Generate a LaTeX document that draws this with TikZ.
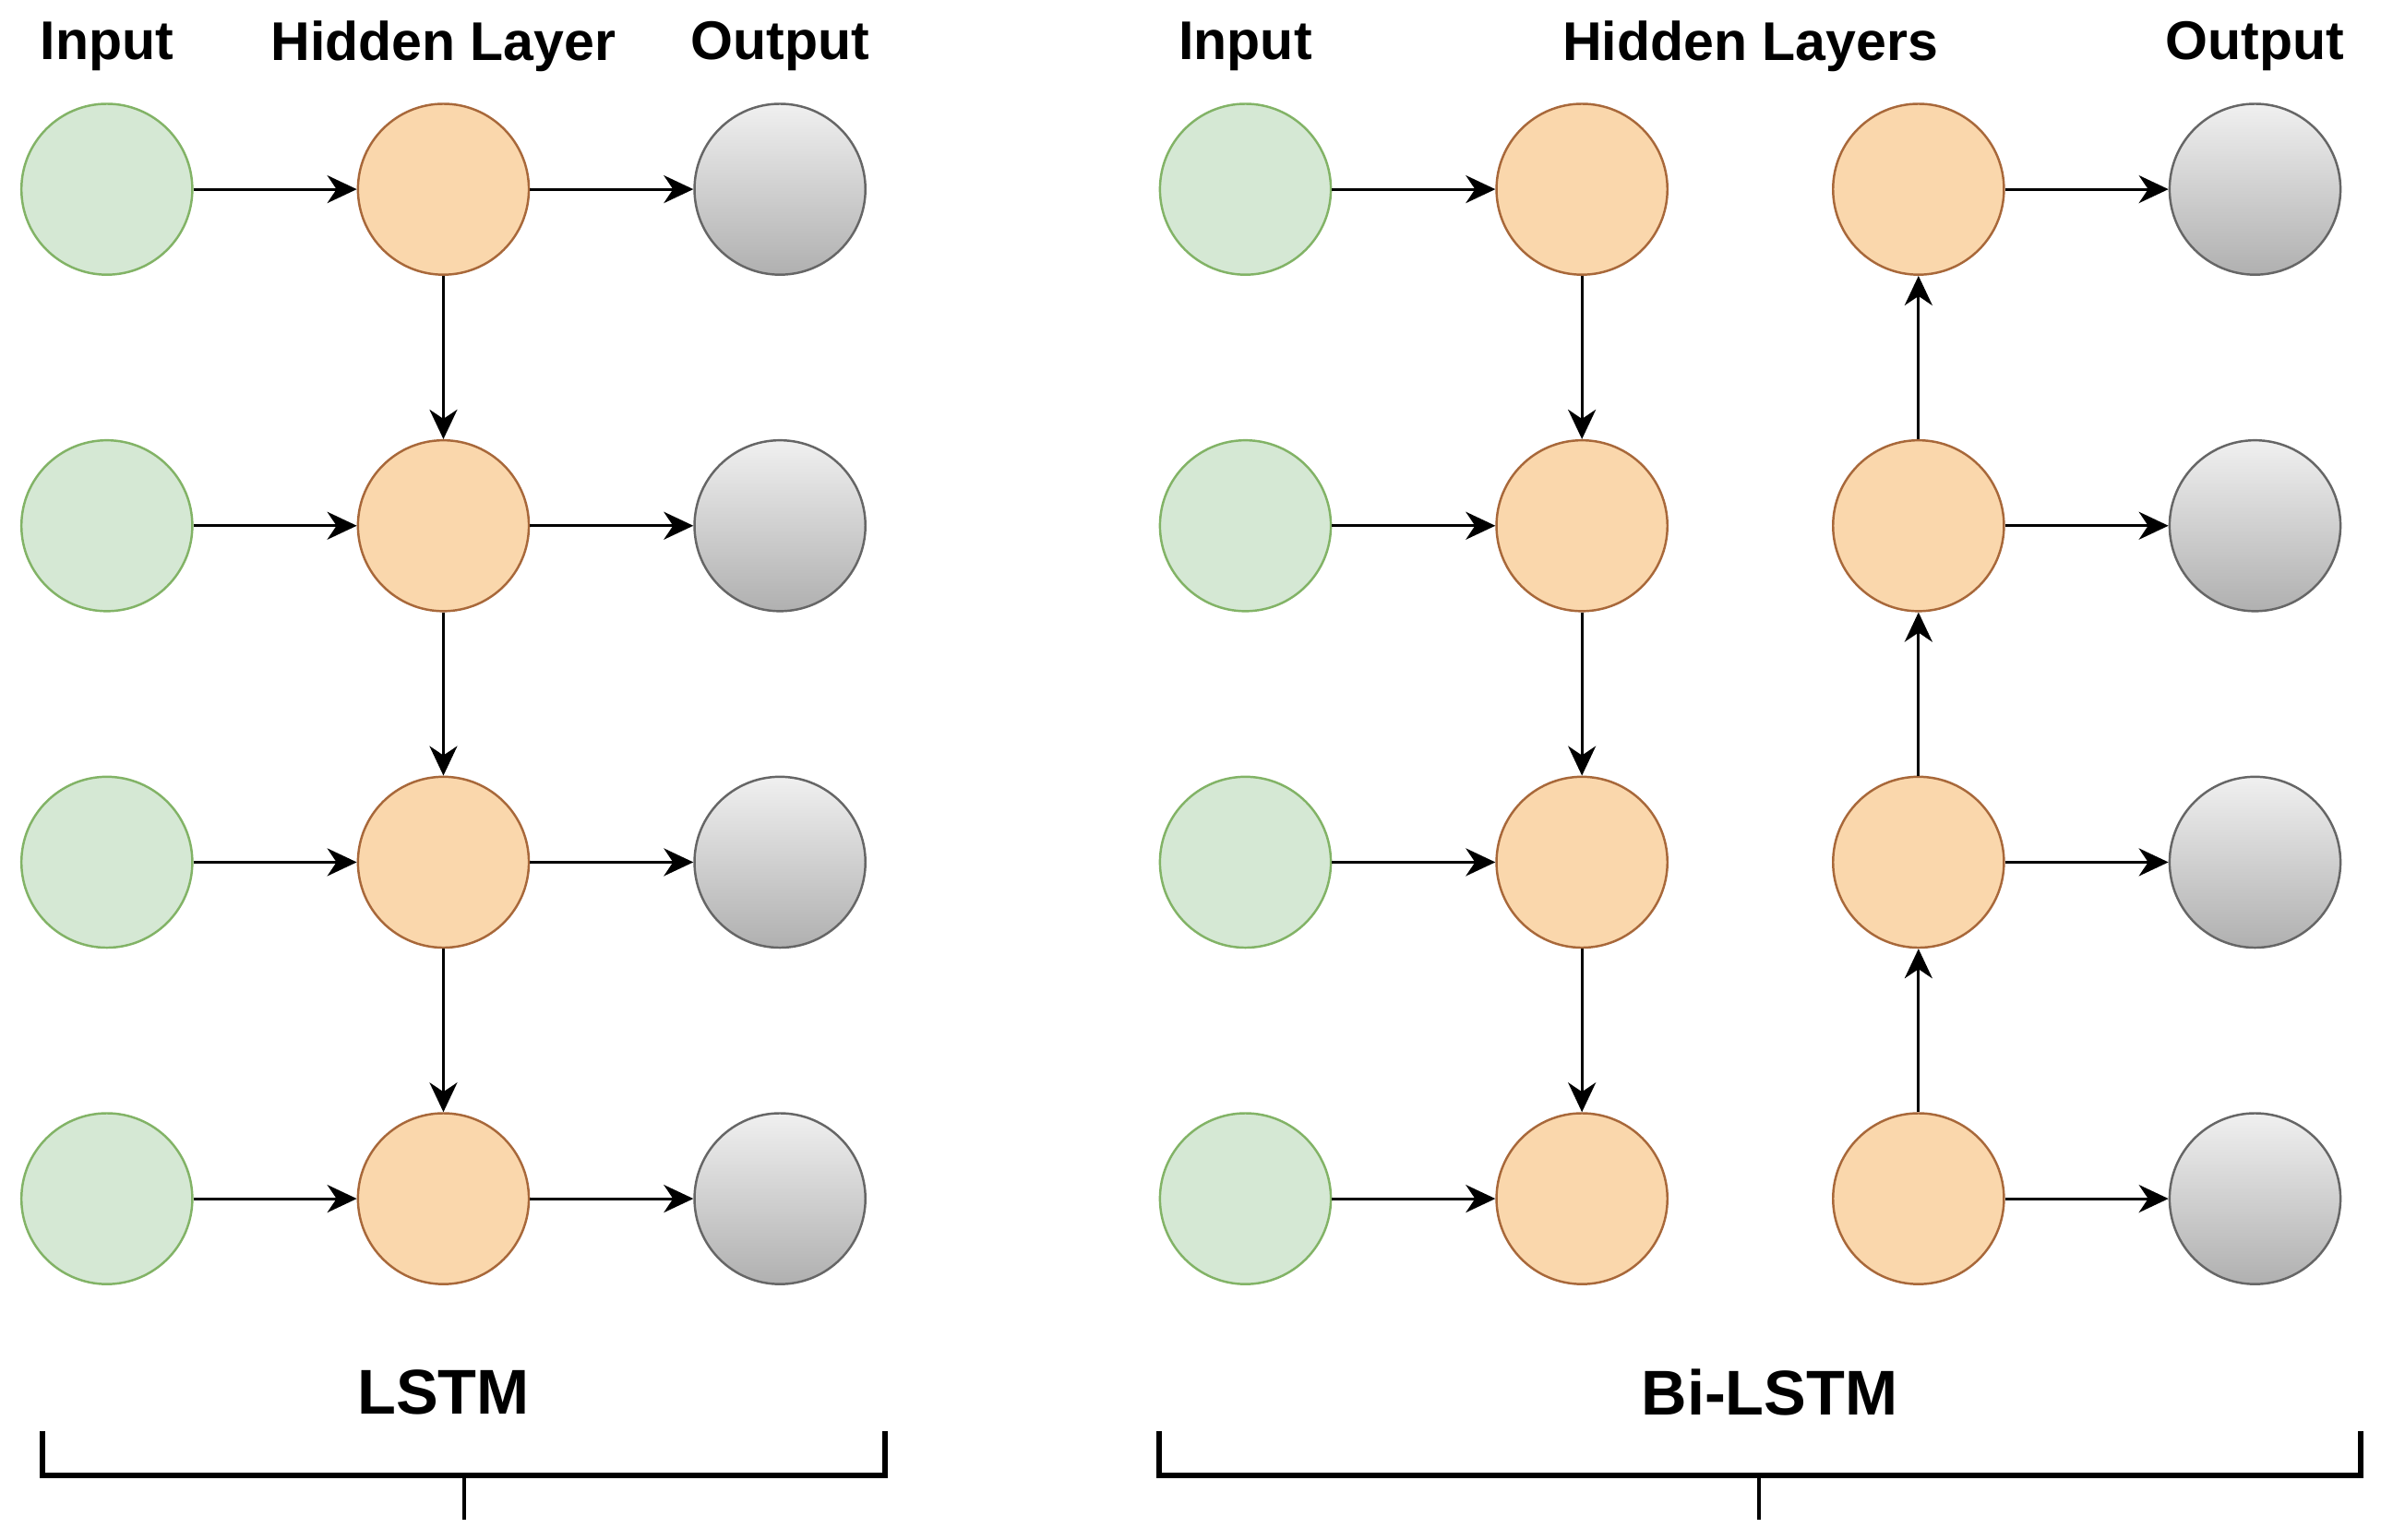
\documentclass[tikz,border=0pt]{standalone}
\usepackage{fontspec}
\setmainfont{Liberation Sans}
\usetikzlibrary{arrows.meta, positioning, calc}

\definecolor{inFill}{HTML}{D5E8D4}
\definecolor{inLine}{HTML}{82B366}
\definecolor{hidFill}{HTML}{FAD7AC}
\definecolor{hidLine}{HTML}{A8683A}
\definecolor{outTop}{HTML}{F0F0F0}
\definecolor{outBot}{HTML}{B0B0B0}
\definecolor{outLine}{HTML}{666666}

\begin{document}
\begin{tikzpicture}[
    node distance=1.77cm,
    unit/.style={
        circle,
        draw,
        line width=0.7pt,
        minimum size=1.852cm,
        inner sep=0pt
    },
    inp/.style={unit, fill=inFill, draw=inLine},
    hid/.style={unit, fill=hidFill, draw=hidLine},
    outp/.style={unit, draw=outLine, top color=outTop, bottom color=outBot},
    header/.style={font=\fontsize{16.8}{20}\selectfont\bfseries},
    model/.style={font=\fontsize{19.5}{23}\selectfont\bfseries},
    arrow/.style={-{Stealth[length=3.2mm, width=3mm, inset=1mm]}, line width=0.9pt},
    bracket/.style={line width=1.7pt}
]

\useasboundingbox (0,0) rectangle (25.93,-16.69);

% LSTM
\node[inp] (in1) at (1.158,-2.051) {};
\node[inp, below=of in1] (in2) {};
\node[inp, below=of in2] (in3) {};
\node[inp, below=of in3] (in4) {};

\node[hid, right=of in1] (h1) {};
\node[hid, right=of in2] (h2) {};
\node[hid, right=of in3] (h3) {};
\node[hid, right=of in4] (h4) {};

\node[outp, right=of h1] (out1) {};
\node[outp, right=of h2] (out2) {};
\node[outp, right=of h3] (out3) {};
\node[outp, right=of h4] (out4) {};

\node[header] (tIn) at ([yshift=0.61cm]in1.north) {Input};
\node[header] (tHid) at ([yshift=0.61cm]h1.north) {Hidden Layer};
\node[header] (tOut) at ([yshift=0.61cm]out1.north) {Output};

\draw[arrow] (in1) -- (h1);
\draw[arrow] (in2) -- (h2);
\draw[arrow] (in3) -- (h3);
\draw[arrow] (in4) -- (h4);
\draw[arrow] (h1) -- (out1);
\draw[arrow] (h2) -- (out2);
\draw[arrow] (h3) -- (out3);
\draw[arrow] (h4) -- (out4);
\draw[arrow] (h1) -- (h2);
\draw[arrow] (h2) -- (h3);
\draw[arrow] (h3) -- (h4);

% Bi-LSTM
\node[inp, right=3.167cm of out1] (rin1) {};
\node[inp, below=of rin1] (rin2) {};
\node[inp, below=of rin2] (rin3) {};
\node[inp, below=of rin3] (rin4) {};

\node[hid, right=of rin1] (f1) {};
\node[hid, right=of rin2] (f2) {};
\node[hid, right=of rin3] (f3) {};
\node[hid, right=of rin4] (f4) {};

\node[hid, right=of f1] (b1) {};
\node[hid, right=of f2] (b2) {};
\node[hid, right=of f3] (b3) {};
\node[hid, right=of f4] (b4) {};

\node[outp, right=of b1] (rout1) {};
\node[outp, right=of b2] (rout2) {};
\node[outp, right=of b3] (rout3) {};
\node[outp, right=of b4] (rout4) {};

\node[header] (tRin) at ([yshift=0.61cm]rin1.north) {Input};
\node[header] (tHids) at ($(f1.north)!0.5!(b1.north)+(0,0.61)$) {Hidden Layers};
\node[header] (tRout) at ([yshift=0.61cm]rout1.north) {Output};

\draw[arrow] (rin1) -- (f1);
\draw[arrow] (rin2) -- (f2);
\draw[arrow] (rin3) -- (f3);
\draw[arrow] (rin4) -- (f4);
\draw[arrow] (f1) -- (f2);
\draw[arrow] (f2) -- (f3);
\draw[arrow] (f3) -- (f4);
\draw[arrow] (b4) -- (b3);
\draw[arrow] (b3) -- (b2);
\draw[arrow] (b2) -- (b1);
\draw[arrow] (b1) -- (rout1);
\draw[arrow] (b2) -- (rout2);
\draw[arrow] (b3) -- (rout3);
\draw[arrow] (b4) -- (rout4);

% model labels and brackets
\node[model] (lstm) at ([yshift=-1.158cm]h4.south) {LSTM};
\node[model] (bilstm) at ($(f4.south)!0.5!(b4.south)+(0.21,-1.158)$) {Bi-LSTM};

\draw[bracket] (0.463,-15.512) -- (0.463,-15.991) -- (9.591,-15.991) -- (9.591,-15.512);
\draw[line width=1.2pt] (5.027,-15.991) -- (5.027,-16.471);
\draw[bracket] (12.560,-15.512) -- (12.560,-15.991) -- (25.583,-15.991) -- (25.583,-15.512);
\draw[line width=1.2pt] (19.061,-15.991) -- (19.061,-16.471);

\end{tikzpicture}
\end{document}
